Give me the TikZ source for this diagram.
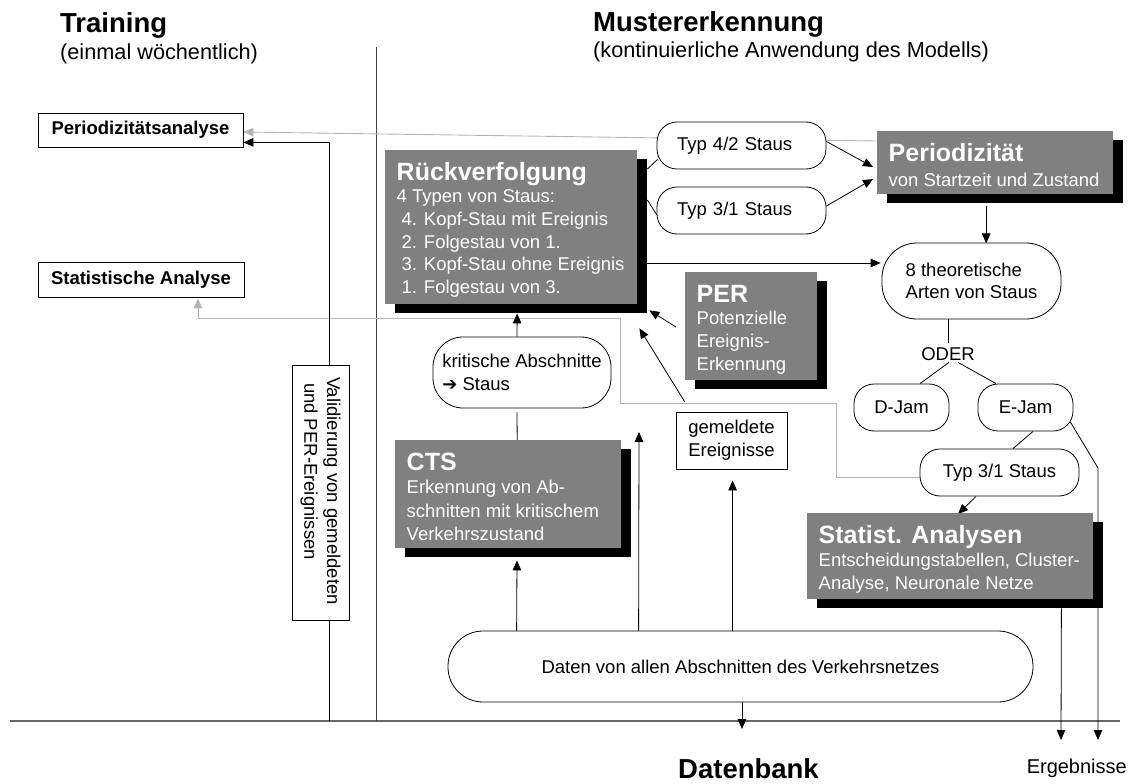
\documentclass[tikz,border=0pt]{standalone}
\usepackage{fontspec}
\usepackage{graphicx}
\setmainfont{Liberation Sans}
\newfontfamily\dejavu{DejaVu Sans}
\usetikzlibrary{calc,shadows,arrows.meta}
\pgfdeclarelayer{background}
\pgfsetlayers{background,main}
\definecolor{boxgray}{HTML}{808080}
\definecolor{linegray}{HTML}{B4B4B4}
\definecolor{sepgray}{HTML}{404040}
\newcommand{\fsz}[2]{\fontsize{#1pt}{#2pt}\selectfont}
\newcommand{\grayinner}[3]{\parbox[t][#2][t]{#1}{\raggedright\leftskip=11.5pt\relax\color{white}#3}}
\newcommand{\graytitle}[1]{{\fsz{25}{30}\bfseries\rule{0pt}{30pt}#1\par}}
\begin{document}
\begin{tikzpicture}[x=1pt,y=-1pt,
  graybox/.style={anchor=north west, inner sep=0pt, fill=boxgray,
    drop shadow={shadow xshift=10pt, shadow yshift=-9pt, fill=black, opacity=1}},
  whitebox/.style={draw=black, fill=white, line width=0.8pt, rounded corners=#1,
    font=\fsz{18.5}{22.6}, align=left, inner sep=0pt},
  whitebox/.default=20pt,
  plainbox/.style={draw=black, fill=white, line width=0.8pt, inner sep=0pt},
  txt/.style={inner sep=0pt, anchor=base west},
  conn/.style={line width=0.8pt, draw=black},
  grayconn/.style={line width=0.9pt, draw=linegray},
  arr/.style={-{Triangle[length=10pt,width=8.5pt]}}
]
\useasboundingbox (0,0) rectangle (1128,784);

% titles
\node[txt, font=\fsz{27.5}{33}\bfseries] (training) at (60,33) {Training};
\node[txt, font=\fsz{21.7}{26}] (trainsub) at (60,60) {(einmal wöchentlich)};
\node[txt, font=\fsz{27.5}{33}\bfseries] (muster) at (593,32) {Mustererkennung};
\node[txt, font=\fsz{21.7}{26}] (mustersub) at (593,58) {(kontinuierliche Anwendung des Modells)};
\node[txt, font=\fsz{27.5}{33}\bfseries] (datenbank) at (678,778) {Datenbank};
\node[inner sep=0pt, anchor=base east, font=\fsz{20}{24}] (ergebnisse) at (1127,773) {Ergebnisse};

% left boxes
\node[plainbox, minimum width=205pt, minimum height=34pt, font=\fsz{18.5}{22}\bfseries] (pa) at (140.5,130) {Periodizitätsanalyse};
\node[plainbox, minimum width=206pt, minimum height=35pt, font=\fsz{18.5}{22}\bfseries] (sa) at (141,279.5) {Statistische Analyse};
\node[plainbox, minimum width=57pt, minimum height=255pt, font=\fsz{18.5}{22.6}] (val) at (320.5,492.5)
  {\rotatebox{-90}{\parbox{231pt}{\raggedright Validierung von gemeldeten\\\hspace*{6pt}und PER-Ereignissen}}};

% gray boxes
\node[graybox] (rueck) at (385,150) {\grayinner{252pt}{154pt}{\graytitle{Rückverfolgung}\fsz{18.5}{22.6}4 Typen von Staus:\\\hspace*{5pt}4. Kopf-Stau mit Ereignis\\\hspace*{5pt}2. Folgestau von 1.\\\hspace*{5pt}3. Kopf-Stau ohne Ereignis\\\hspace*{5pt}1. Folgestau von 3.}};
\node[graybox] (perio) at (877,131) {\grayinner{236pt}{63pt}{\graytitle{Periodizität}\fsz{18.5}{25}von Startzeit und Zustand}};
\node[graybox] (per) at (685,272) {\grayinner{132pt}{108pt}{\graytitle{PER}\fsz{18.5}{22.6}Potenzielle\\Ereignis-\\Erkennung}};
\node[graybox] (cts) at (395,440) {\grayinner{226pt}{108pt}{\graytitle{CTS}\fsz{18.5}{23.5}Erkennung von Ab-\\schnitten mit kritischem\\Verkehrszustand}};
\node[graybox] (stat) at (807,513) {\grayinner{286pt}{86pt}{\graytitle{Statist. Analysen}\fsz{18.5}{23}Entscheidungstabellen, Cluster-\\Analyse, Neuronale Netze}};

% white rounded boxes
\node[whitebox, minimum width=169pt, minimum height=47pt, text width=129pt, inner xsep=20pt] (t42) at (741.5,145.5) {Typ 4/2 Staus};
\node[whitebox, minimum width=169pt, minimum height=47pt, text width=129pt, inner xsep=20pt] (t31) at (741.5,210.5) {Typ 3/1 Staus};
\node[whitebox=35pt, minimum width=179pt, minimum height=76pt] (theo) at (971.5,281) {8 theoretische\\Arten von Staus};
\node[whitebox, minimum width=95pt, minimum height=47pt] (djam) at (901.5,407.5) {D-Jam};
\node[whitebox, minimum width=95pt, minimum height=47pt] (ejam) at (1025.5,407.5) {E-Jam};
\node[whitebox, minimum width=159pt, minimum height=47pt] (t31b) at (999.5,472.5) {Typ 3/1 Staus};
\node[whitebox=30pt, minimum width=178pt, minimum height=71pt] (krit) at (522,372.5) {kritische Abschnitte\\{\dejavu\bfseries\fsz{18}{20}➔} Staus};
\node[plainbox, minimum width=111pt, minimum height=57pt, align=left, font=\fsz{18.5}{22.6}] (gem) at (731.5,440.5) {gemeldete\\Ereignisse};
\node[whitebox=35pt, minimum width=585pt, minimum height=71pt, align=center] (daten) at (740.5,666.5) {Daten von allen Abschnitten des Verkehrsnetzes};
\node[inner sep=0pt, anchor=base, font=\fsz{18.5}{22}] (oder) at (948,360) {ODER};

% free ends
\coordinate (upend) at (639,432);
\coordinate (dbend) at (742,729);
\coordinate (res1) at (1061,740);
\coordinate (res2) at (1098,740);
\coordinate (vb) at (329,721);

\begin{pgfonlayer}{background}
  % frame lines
  \draw[line width=1.3pt, draw=sepgray!80] (10,721) -- (1120,721);
  \draw[line width=1pt, draw=sepgray] (376,47) -- (376,721);
  % gray feedback lines
  \draw[grayconn, arr] ($(perio.north west)+(0,10)$) -- ($(pa.east)+(0,2)$);
  \draw[grayconn, arr] ($(t31b.west)+(0,4.5)$) -| (836,403) -| (620,318) -| ($(sa.south)+(57,1)$);
  % validation path
  \draw[conn] (vb) -- (vb |- val.south);
  \draw[conn, arr] (vb |- val.north) |- ($(pa.south east)+(0,-5)$);
  % upper right
  \draw[conn] ($(rueck.north east)+(10,19)$) -- ($(t42.south west)+(1,-10)$);
  \draw[conn] ($(rueck.north east)+(10,50)$) -- ($(t31.north west)+(0,28)$);
  \draw[conn, arr] ($(t42.east)+(0,-4)$) -- ($(perio.north west)+(-4,36)$);
  \draw[conn, arr] ($(t31.east)+(0,-4.5)$) -- ($(perio.north west)+(-4,48)$);
  \draw[conn, arr] ($(rueck.north east)+(10,113)$) -- ($(theo.west)+(-1,-18)$);
  \draw[conn, arr] ($(perio.south)+(-9,12)$) -- ($(perio.south)+(-9,49)$);
  \draw[conn] (oder.north |- theo.south) -- ($(oder.north)+(0,-4)$);
  \draw[conn] ($(oder.south)+(1,2)$) -- ($(djam.north)+(18.5,0)$);
  \draw[conn] ($(oder.south)+(10,2)$) -- ($(ejam.north)+(-29.5,0)$);
  \draw[conn] ($(ejam.south)+(7.5,0)$) -- ($(t31b.north)+(13.5,0)$);
  \draw[conn, arr] ($(t31b.south)+(-23.5,0)$) -- ($(stat.north west)+(151,1)$);
  \draw[conn, arr] ($(ejam.east)+(-3,14.5)$) -- (1098,468) -- (res2);
  \draw[conn, arr] ($(stat.south east)+(-32,9)$) -- (res1);
  % middle
  \draw[conn, arr] ($(krit.north)+(-5,0)$) -- ($(rueck.south)+(6,9)$);
  \draw[conn] ($(cts.north)+(9,0)$) -- ($(krit.south)+(-5,4)$);
  \draw[conn, arr] ($(gem.north west)+(9,-10)$) -- ($(rueck.south east)+(2,24)$);
  \draw[conn, arr] ($(per.north west)+(-9,55)$) -- ($(rueck.south east)+(12,6)$);
  % from data
  \draw[conn, arr] ($(daten.north west)+(69,0)$) -- ($(cts.south west)+(122,12)$);
  \draw[conn, arr] ($(daten.north west)+(191,0)$) -- (upend);
  \draw[conn, arr] ($(daten.north west)+(285,0)$) -- ($(gem.south west)+(57,11)$);
  \draw[conn, arr] ($(daten.south)+(1.5,0)$) -- (dbend);
\end{pgfonlayer}
\end{tikzpicture}
\end{document}
